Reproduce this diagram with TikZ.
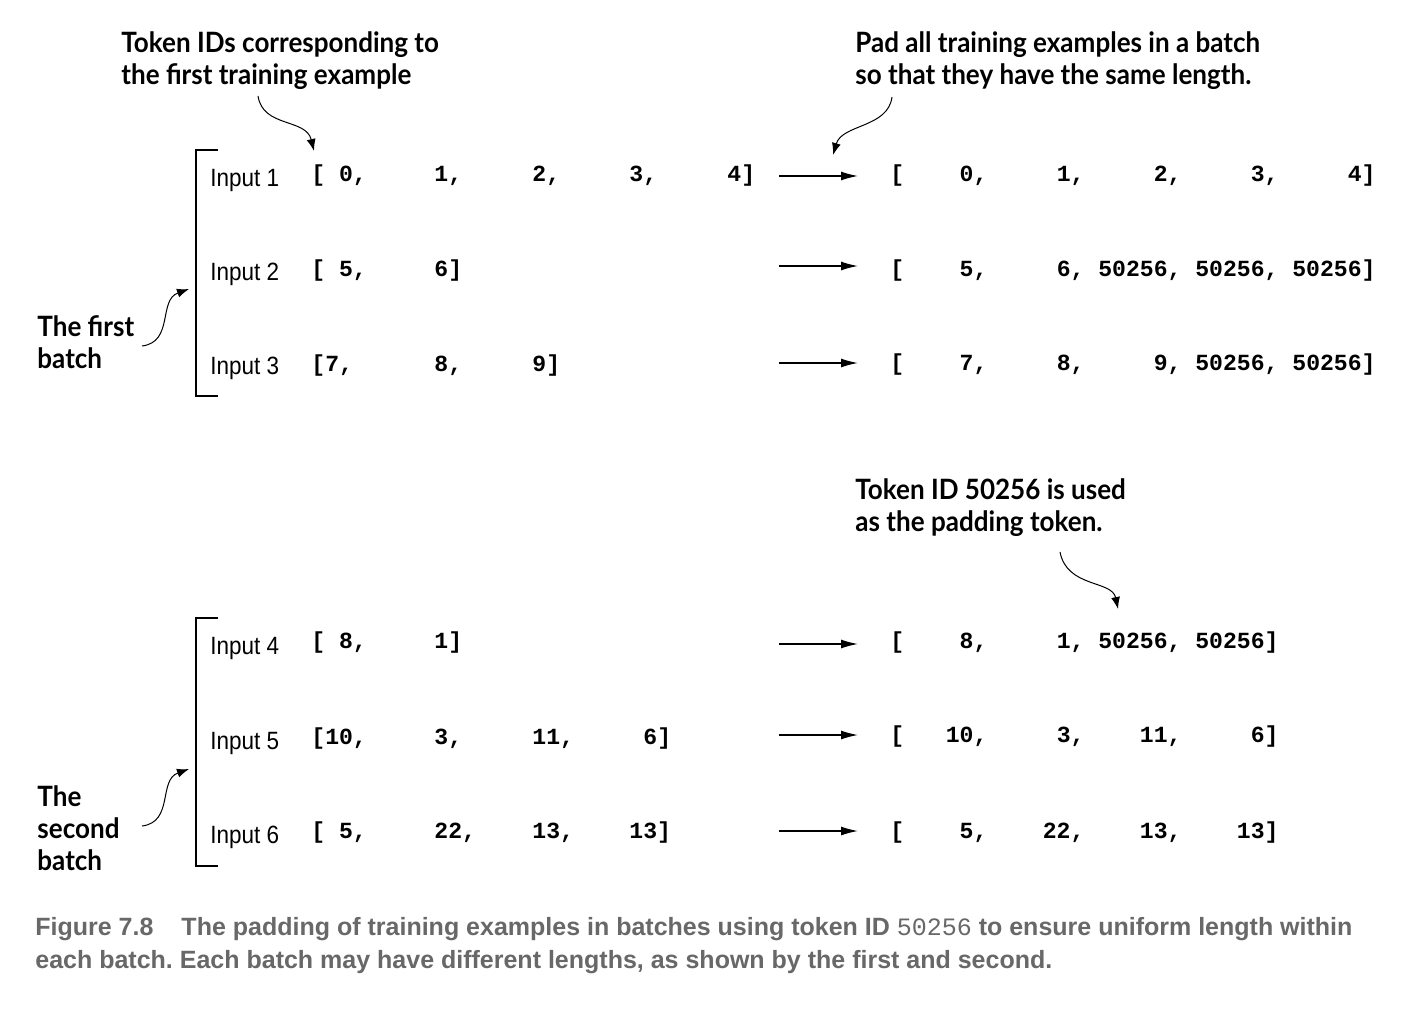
\documentclass[tikz,border=0pt]{standalone}
\usepackage{fontspec}
\usetikzlibrary{arrows.meta}
\newfontfamily\annfont[FakeStretch=0.93]{Lato}
\newfontfamily\lblfont[FakeStretch=0.9]{Liberation Sans}
\newfontfamily\codefont{Liberation Mono}
\newfontfamily\capfont{Liberation Sans}
\definecolor{capgray}{RGB}{104,104,104}
\frenchspacing
\tikzset{
  ann/.style={font=\annfont\bfseries\fontsize{14}{16}\selectfont, align=left, anchor=north west, inner sep=0pt},
  lbl/.style={font=\lblfont\fontsize{12.5}{14}\selectfont, anchor=base west, inner sep=0pt},
  tok/.style={font=\codefont\bfseries\fontsize{11.55}{13}\selectfont, anchor=base west, inner sep=0pt},
  harrow/.style={line width=0.7pt, -{Latex[length=8.5pt,width=4.5pt]}},
  carrow/.style={line width=0.5pt, -{Latex[length=6pt,width=4.5pt]}},
  brack/.style={line width=0.9pt},
  captext/.style={font=\capfont\bfseries\fontsize{12.5}{16.5}\selectfont, text=capgray, align=left, anchor=north west, inner sep=0pt}
}
\begin{document}
\begin{tikzpicture}[x=0.5pt,y=-0.5pt]
\fill[white] (0,0) rectangle (1416,1016);
\useasboundingbox (0,0) rectangle (1416,1016);

% annotations
\node[ann] (annA) at (121,31) {Token IDs corresponding to\\the first training example};
\node[ann] (annB) at (855,31) {Pad all training examples in a batch\\so that they have the same length.};
\node[ann] (annC) at (855,478) {Token ID 50256 is used\\as the padding token.};
\node[ann] (annD) at (37,315) {The first\\batch};
\node[ann] (annE) at (37,785) {The\\second\\batch};

% brackets
\draw[brack] (218,150) -| (196,396) -- (218,396);
\draw[brack] (218,618) -| (196,866) -- (218,866);

% labels
\node[lbl] (in1) at (210,186) {Input 1};
\node[lbl] (in2) at (210,280) {Input 2};
\node[lbl] (in3) at (210,374) {Input 3};
\node[lbl] (in4) at (210,654) {Input 4};
\node[lbl] (in5) at (210,749) {Input 5};
\node[lbl] (in6) at (210,843) {Input 6};

% left tokens
\node[tok] (l11) at (311,182) {[ 0,};
\node[tok] (l12) at (434,182) {1,};
\node[tok] (l13) at (532,182) {2,};
\node[tok] (l14) at (629,182) {3,};
\node[tok] (l15) at (727,182) {4]};
\node[tok] (l21) at (311,276) {[ 5,};
\node[tok] (l22) at (434,276) {6]};
\node[tok] (l31) at (311,371) {[7,};
\node[tok] (l32) at (434,371) {8,};
\node[tok] (l33) at (532,371) {9]};
\node[tok] (l41) at (311,648) {[ 8,};
\node[tok] (l42) at (434,648) {1]};
\node[tok] (l51) at (311,744) {[10,};
\node[tok] (l52) at (434,744) {3,};
\node[tok] (l53) at (532,744) {11,};
\node[tok] (l54) at (643,744) {6]};
\node[tok] (l61) at (311,838) {[ 5,};
\node[tok] (l62) at (434,838) {22,};
\node[tok] (l63) at (532,838) {13,};
\node[tok] (l64) at (629,838) {13]};

% right padded rows
\node[tok] (r1) at (890,182) {[~~~~0,~~~~~1,~~~~~2,~~~~~3,~~~~~4]};
\node[tok] (r2) at (890,276) {[~~~~5,~~~~~6,~50256,~50256,~50256]};
\node[tok] (r3) at (890,370) {[~~~~7,~~~~~8,~~~~~9,~50256,~50256]};
\node[tok] (r4) at (890,648) {[~~~~8,~~~~~1,~50256,~50256]};
\node[tok] (r5) at (890,742) {[~~~10,~~~~~3,~~~~11,~~~~~6]};
\node[tok] (r6) at (890,838) {[~~~~5,~~~~22,~~~~13,~~~~13]};

% horizontal arrows
\coordinate (a1) at (779,176); \coordinate (b1) at (858,176);
\coordinate (a2) at (779,266); \coordinate (b2) at (858,266);
\coordinate (a3) at (779,363); \coordinate (b3) at (858,363);
\coordinate (a4) at (779,644); \coordinate (b4) at (858,644);
\coordinate (a5) at (779,735); \coordinate (b5) at (858,735);
\coordinate (a6) at (779,831); \coordinate (b6) at (858,831);
\foreach \i in {1,...,6} \draw[harrow] (a\i) -- (b\i);

% curved annotation arrows
\coordinate (cA0) at (258,96);  \coordinate (cA1) at (314,151);
\coordinate (cB0) at (892,97);  \coordinate (cB1) at (833,155);
\coordinate (cC0) at (1060,552); \coordinate (cC1) at (1118,609);
\coordinate (cD0) at (142,346); \coordinate (cD1) at (189,289);
\coordinate (cE0) at (142,826); \coordinate (cE1) at (189,769);
\draw[carrow] (cA0) .. controls (263,128) and (306,118) .. (cA1);
\draw[carrow] (cB0) .. controls (888,128) and (842,124) .. (cB1);
\draw[carrow] (cC0) .. controls (1067,588) and (1112,580) .. (cC1);
\draw[carrow] (cD0) .. controls (174,342) and (158,300) .. (cD1);
\draw[carrow] (cE0) .. controls (174,822) and (158,780) .. (cE1);

% caption
\node[captext] (caption) at (35,917) {Figure 7.8\hspace{14pt}The padding of training examples in batches using token ID {\codefont\mdseries 50256} to ensure uniform length within\\each batch. Each batch may have different lengths, as shown by the first and second.};
\end{tikzpicture}
\end{document}
